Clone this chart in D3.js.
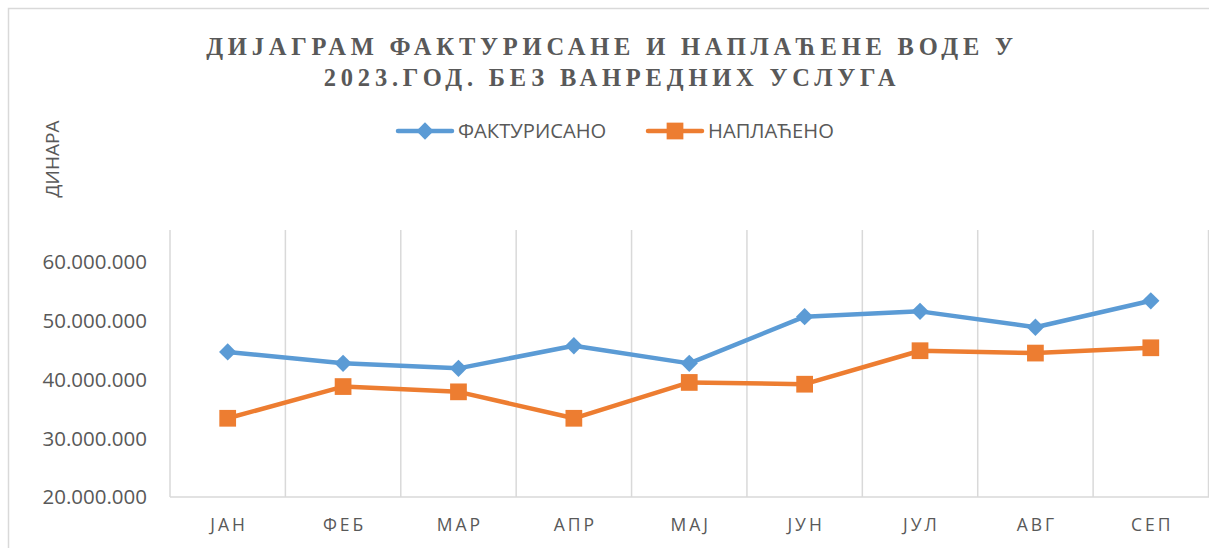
<!DOCTYPE html>
<html>
<head>
<meta charset="utf-8">
<script src="https://cdn.jsdelivr.net/npm/d3@7"></script>
<style>
  body { margin: 0; background: #fff; }
  svg { display: block; }
</style>
</head>
<body>
<div id="chart"></div>
<script>
// data
let months = ["ЈАН", "ФЕБ", "МАР", "АПР", "МАЈ", "ЈУН", "ЈУЛ", "АВГ", "СЕП"];
let fakturisano = [44700000, 42750000, 41900000, 45750000, 42750000, 50700000, 51600000, 48900000, 53400000];
let naplaceno = [33400000, 38800000, 37900000, 33400000, 39500000, 39200000, 44900000, 44500000, 45400000];
let yTicks = [20000000, 30000000, 40000000, 50000000, 60000000];
let seriesNames = ["ФАКТУРИСАНО", "НАПЛАЋЕНО"];
let titleLines = ["ДИЈАГРАМ ФАКТУРИСАНЕ И НАПЛАЋЕНЕ ВОДЕ У", "2023.ГОД. БЕЗ ВАНРЕДНИХ УСЛУГА"];

let W = 1209, H = 548;
let margin = {top: 230, left: 170, bottom: 51, right: 0.5};
let colors = ["#5B9BD5", "#ED7D31"];
let grey = "#595959";

let svg = d3.select("#chart").append("svg").attr("width", W).attr("height", H);

// outer chart border (cut off at right and bottom like the reference)
svg.append("rect")
  .attr("x", 8.5).attr("y", 8.5)
  .attr("width", W + 20).attr("height", H + 20)
  .attr("fill", "none").attr("stroke", "#d9d9d9").attr("stroke-width", 1.5);

let x = d3.scaleBand()
  .domain(months)
  .range([margin.left, W - margin.right])
  .padding(0);

let y = d3.scaleLinear()
  .domain([20000000, 65450000])
  .range([H - margin.bottom, margin.top]);

// vertical gridlines at category boundaries
let bounds = months.map(m => x(m)).concat([x.range()[1]]);
svg.append("g")
  .selectAll("line")
  .data(bounds)
  .enter().append("line")
  .attr("x1", d => d).attr("x2", d => d)
  .attr("y1", margin.top).attr("y2", y(20000000))
  .attr("stroke", "#d9d9d9").attr("stroke-width", 1.5);

// bottom axis line
svg.append("line")
  .attr("x1", margin.left).attr("x2", W)
  .attr("y1", y(20000000)).attr("y2", y(20000000))
  .attr("stroke", "#d9d9d9").attr("stroke-width", 1.5);

// y tick labels
let fmt = d => d3.format(",")(d).replace(/,/g, ".");
svg.append("g")
  .selectAll("text")
  .data(yTicks)
  .enter().append("text")
  .attr("x", 147)
  .attr("y", d => y(d))
  .attr("dy", "0.36em")
  .attr("text-anchor", "end")
  .attr("font-family", "'Open Sans', sans-serif")
  .attr("font-size", 20.5)
  .attr("fill", grey)
  .text(fmt);

// x labels
svg.append("g")
  .selectAll("text")
  .data(months)
  .enter().append("text")
  .attr("x", d => x(d) + x.bandwidth() / 2 + 1.5)
  .attr("y", 531)
  .attr("text-anchor", "middle")
  .attr("font-family", "'Open Sans', sans-serif")
  .attr("font-size", 17.5)
  .attr("letter-spacing", 3)
  .attr("fill", grey)
  .text(d => d);

// y axis title
svg.append("text")
  .attr("transform", "translate(59,159) rotate(-90)")
  .attr("text-anchor", "middle")
  .attr("font-family", "'Open Sans', sans-serif")
  .attr("font-size", 19)
  .attr("fill", grey)
  .text("ДИНАРА");

// title
svg.append("g")
  .selectAll("text")
  .data(titleLines)
  .enter().append("text")
  .attr("x", 612)
  .attr("y", (d, i) => 55 + i * 31)
  .attr("text-anchor", "middle")
  .attr("font-family", "'Liberation Serif', 'Times New Roman', serif")
  .attr("font-weight", "bold")
  .attr("font-size", 24.5)
  .attr("letter-spacing", 4.8)
  .attr("fill", grey)
  .text(d => d);

// markers: diamond = rotated square
function marker(s) {
  return s == 0
    ? d3.symbol().type(d3.symbolSquare).size(150)()
    : d3.symbol().type(d3.symbolSquare).size(280)();
}
let rot = s => s == 0 ? " rotate(45)" : "";

// lines + markers
let series = [fakturisano, naplaceno];
let line = d3.line()
  .x((d, i) => x(months[i]) + x.bandwidth() / 2)
  .y(d => y(d));

series.forEach(function(vals, s) {
  svg.append("path")
    .datum(vals)
    .attr("d", line)
    .attr("fill", "none")
    .attr("stroke", colors[s])
    .attr("stroke-width", 4.5)
    .attr("stroke-linejoin", "round");

  svg.append("g")
    .selectAll("path")
    .data(vals)
    .enter().append("path")
    .attr("transform", (d, i) => `translate(${x(months[i]) + x.bandwidth() / 2},${y(d)})` + rot(s))
    .attr("d", marker(s))
    .attr("fill", colors[s]);
});

// legend
let legendX = [398, 648];
let legend = svg.append("g")
  .selectAll("g")
  .data(seriesNames)
  .enter().append("g")
  .attr("transform", (d, i) => `translate(${legendX[i]},131)`);

legend.append("line")
  .attr("x1", 0).attr("x2", 54)
  .attr("stroke", (d, i) => colors[i])
  .attr("stroke-width", 4.5)
  .attr("stroke-linecap", "round");

legend.append("path")
  .attr("transform", (d, i) => "translate(27,0)" + rot(i))
  .attr("d", (d, i) => marker(i))
  .attr("fill", (d, i) => colors[i]);

legend.append("text")
  .attr("x", 60)
  .attr("dy", "0.36em")
  .attr("font-family", "'Open Sans', sans-serif")
  .attr("font-size", 20.2)
  .attr("fill", grey)
  .text(d => d);
</script>
</body>
</html>
